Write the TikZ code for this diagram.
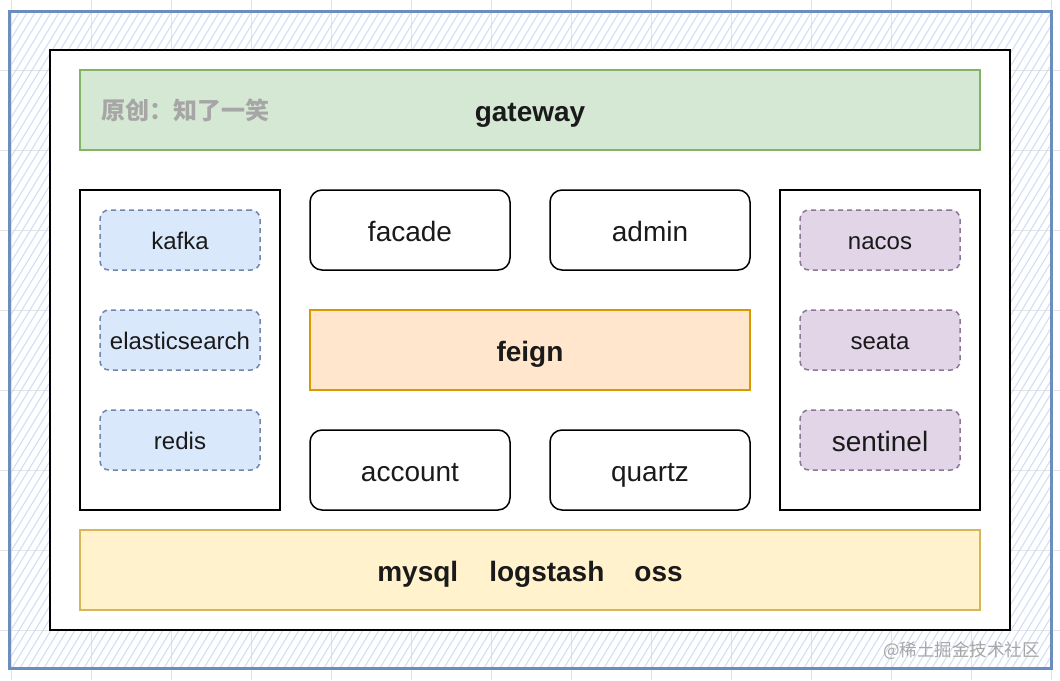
\documentclass[tikz,border=0pt]{standalone}
\usepackage{fontspec}
\setmainfont{Liberation Sans}
\newfontfamily\cjk{Noto Sans CJK SC}
\definecolor{gridc}{HTML}{E4E4E4}
\definecolor{hatchc}{HTML}{C9D7F3}
\definecolor{outerc}{HTML}{6C8EBF}
\definecolor{greenf}{HTML}{D5E8D4}
\definecolor{greens}{HTML}{82B366}
\definecolor{orangef}{HTML}{FFE6CC}
\definecolor{oranges}{HTML}{D79B00}
\definecolor{yellowf}{HTML}{FFF2CC}
\definecolor{yellows}{HTML}{D6B656}
\definecolor{bluef}{HTML}{DAE8FC}
\definecolor{blues}{HTML}{7485AD}
\definecolor{purplef}{HTML}{E1D5E7}
\definecolor{purples}{HTML}{8A7896}
\definecolor{txt}{HTML}{1A1A1A}
\definecolor{wm}{HTML}{A6A6A6}
\tikzset{
  lbl/.style={inner sep=0pt, text=txt},
  big/.style={font=\fontsize{28}{30}\selectfont, text height=28.5pt, text depth=5.5pt},
  small/.style={font=\fontsize{24}{26}\selectfont, text height=23.5pt, text depth=4.5pt},
  whitebox/.style={lbl, big, draw=black, line width=1.5pt, fill=white, rounded corners=12pt,
    minimum width=200pt, minimum height=80pt},
  dashbox/.style={lbl, small, line width=1.5pt, dash pattern=on 5pt off 4pt, rounded corners=9pt,
    minimum width=160pt, minimum height=60pt},
  bluebox/.style={dashbox, draw=blues, fill=bluef},
  purplebox/.style={dashbox, draw=purples, fill=purplef},
  panel/.style={draw=black, line width=1.5pt, fill=white, inner sep=0pt},
  band/.style={lbl, big, line width=1.5pt, minimum width=900pt, minimum height=80pt},
}
\begin{document}
\begin{tikzpicture}[x=1pt,y=-1pt]
\useasboundingbox (0,0) rectangle (1060,680);
\fill[white] (0,0) rectangle (1060,680);
% page grid
\foreach \gx in {11,91,...,1060} \draw[gridc, line width=0.8pt] (\gx,0) -- (\gx,680);
\foreach \gy in {70,150,...,680} \draw[gridc, line width=0.8pt] (0,\gy) -- (1060,\gy);
% hatch fill of the outer frame
\begin{scope}
  \clip (9,11) rectangle (1051,668);
  \foreach \k in {-420,-412,...,1060}
    \draw[hatchc, line width=1.1pt, opacity=0.8] (\k,668) -- (\k+400,11);
\end{scope}
\draw[outerc, line width=3pt] (9,11) rectangle (1051,668);
% inner white frame
\node[panel, line width=2pt, minimum width=960pt, minimum height=580pt] (frame) at (530,340) {};
% gateway band
\node[band, draw=greens, fill=greenf, font=\fontsize{28}{30}\selectfont\bfseries] (gateway) at (530,110) {gateway};
\node[anchor=west, inner sep=0pt, text=wm, font=\cjk\fontsize{24}{26}\selectfont\bfseries] (orig) at (101,110) {原创：知了一笑};
% side panels
\node[panel, minimum width=200pt, minimum height=320pt] (left) at (180,350) {};
\node[panel, minimum width=200pt, minimum height=320pt] (right) at (880,350) {};
\node[bluebox] (kafka) at (180,240) {kafka};
\node[bluebox] (es) at (180,340) {elasticsearch};
\node[bluebox] (redis) at (180,440) {redis};
\node[purplebox] (nacos) at (880,240) {nacos};
\node[purplebox] (seata) at (880,340) {seata};
\node[purplebox, big] (sentinel) at (880,440) {sentinel};
% services
\node[whitebox] (facade) at (410,230) {facade};
\node[whitebox] (admin) at (650,230) {admin};
\node[lbl, big, draw=oranges, fill=orangef, line width=1.5pt, minimum width=440pt, minimum height=80pt,
  font=\fontsize{28}{30}\selectfont\bfseries] (feign) at (530,350) {feign};
\node[whitebox] (account) at (410,470) {account};
\node[whitebox] (quartz) at (650,470) {quartz};
% bottom band
\node[band, draw=yellows, fill=yellowf, font=\fontsize{28}{30}\selectfont\bfseries] (storage) at (530,570) {mysql\hspace{31pt}logstash\hspace{30pt}oss};
% watermark
\node[anchor=east, inner sep=0pt, text=wm, font=\cjk\fontsize{17.5}{19}\selectfont] (juejin) at (1040,651) {@稀土掘金技术社区};
\end{tikzpicture}
\end{document}
